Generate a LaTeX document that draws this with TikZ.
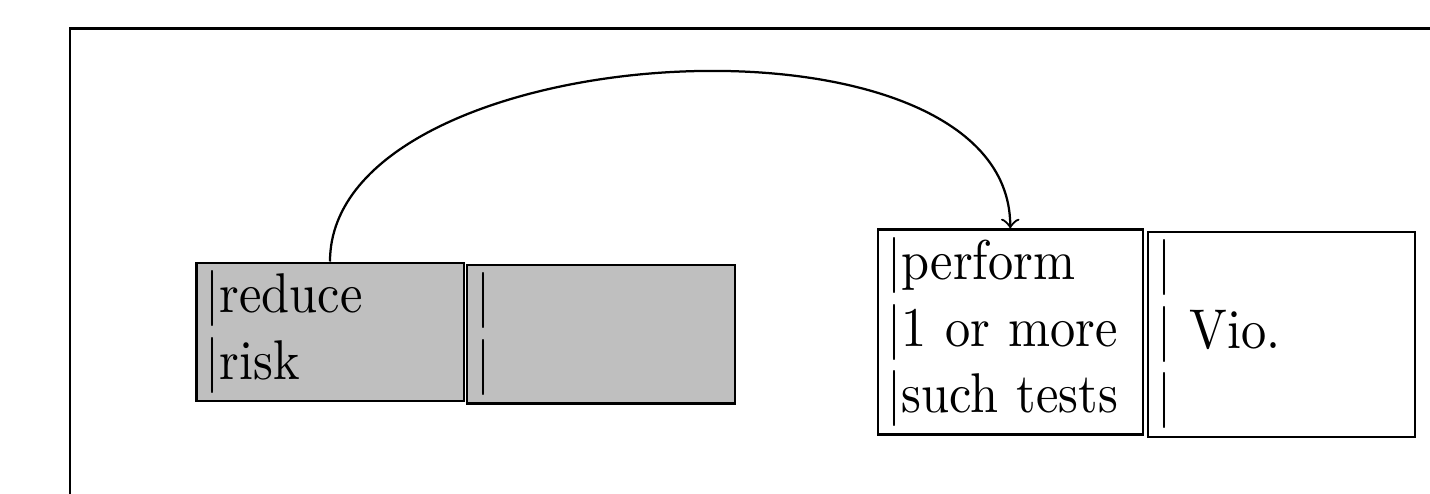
\documentclass[tikz,border=0pt]{standalone}
\usepackage{fontspec}
% Latin Modern, slightly condensed
\newfontfamily\boxfont{lmroman10-regular}[Extension=.otf, FakeStretch=0.9]
\usetikzlibrary{calc}
\definecolor{boxgray}{RGB}{191,191,191}
\tikzset{
  cell/.style={draw, line width=0.5pt, rectangle, anchor=north west,
    align=left, inner xsep=1.9pt, inner ysep=0pt,
    font=\boxfont\fontsize{11.2}{13.3}\selectfont},
  shaded/.style={cell, fill=boxgray},
  link/.style={line width=0.45pt, ->},
}
\begin{document}
\begin{tikzpicture}[x=0.2pt, y=-0.2pt]
\useasboundingbox (0,0) rectangle (1430,494);
% outer frame
\draw[line width=0.5pt] (70,520) |- (1450,28.3);
% left pair of cells
\node[shaded, text width=49.7pt, minimum height=27.6pt] (A) at (195,261.5) {|reduce\\|risk};
\node[shaded, text width=49.8pt, minimum height=27.7pt] (B) at (465.5,263.5) {|\\|};
% right pair of cells
\node[cell, text width=49.2pt, minimum height=41pt] (C) at (876.5,228.3) {|perform\\|1 or more\\|such tests};
\node[cell, text width=49.6pt, minimum height=41pt] (D) at (1146.5,230.5) {|\\| Vio.\\|};
% arc from the first cell to the third
\draw[link] (A.north) .. controls ($(A.north)+(0,-226)$) and ($(C.north)+(0,-234)$) .. (C.north);
\end{tikzpicture}
\end{document}
